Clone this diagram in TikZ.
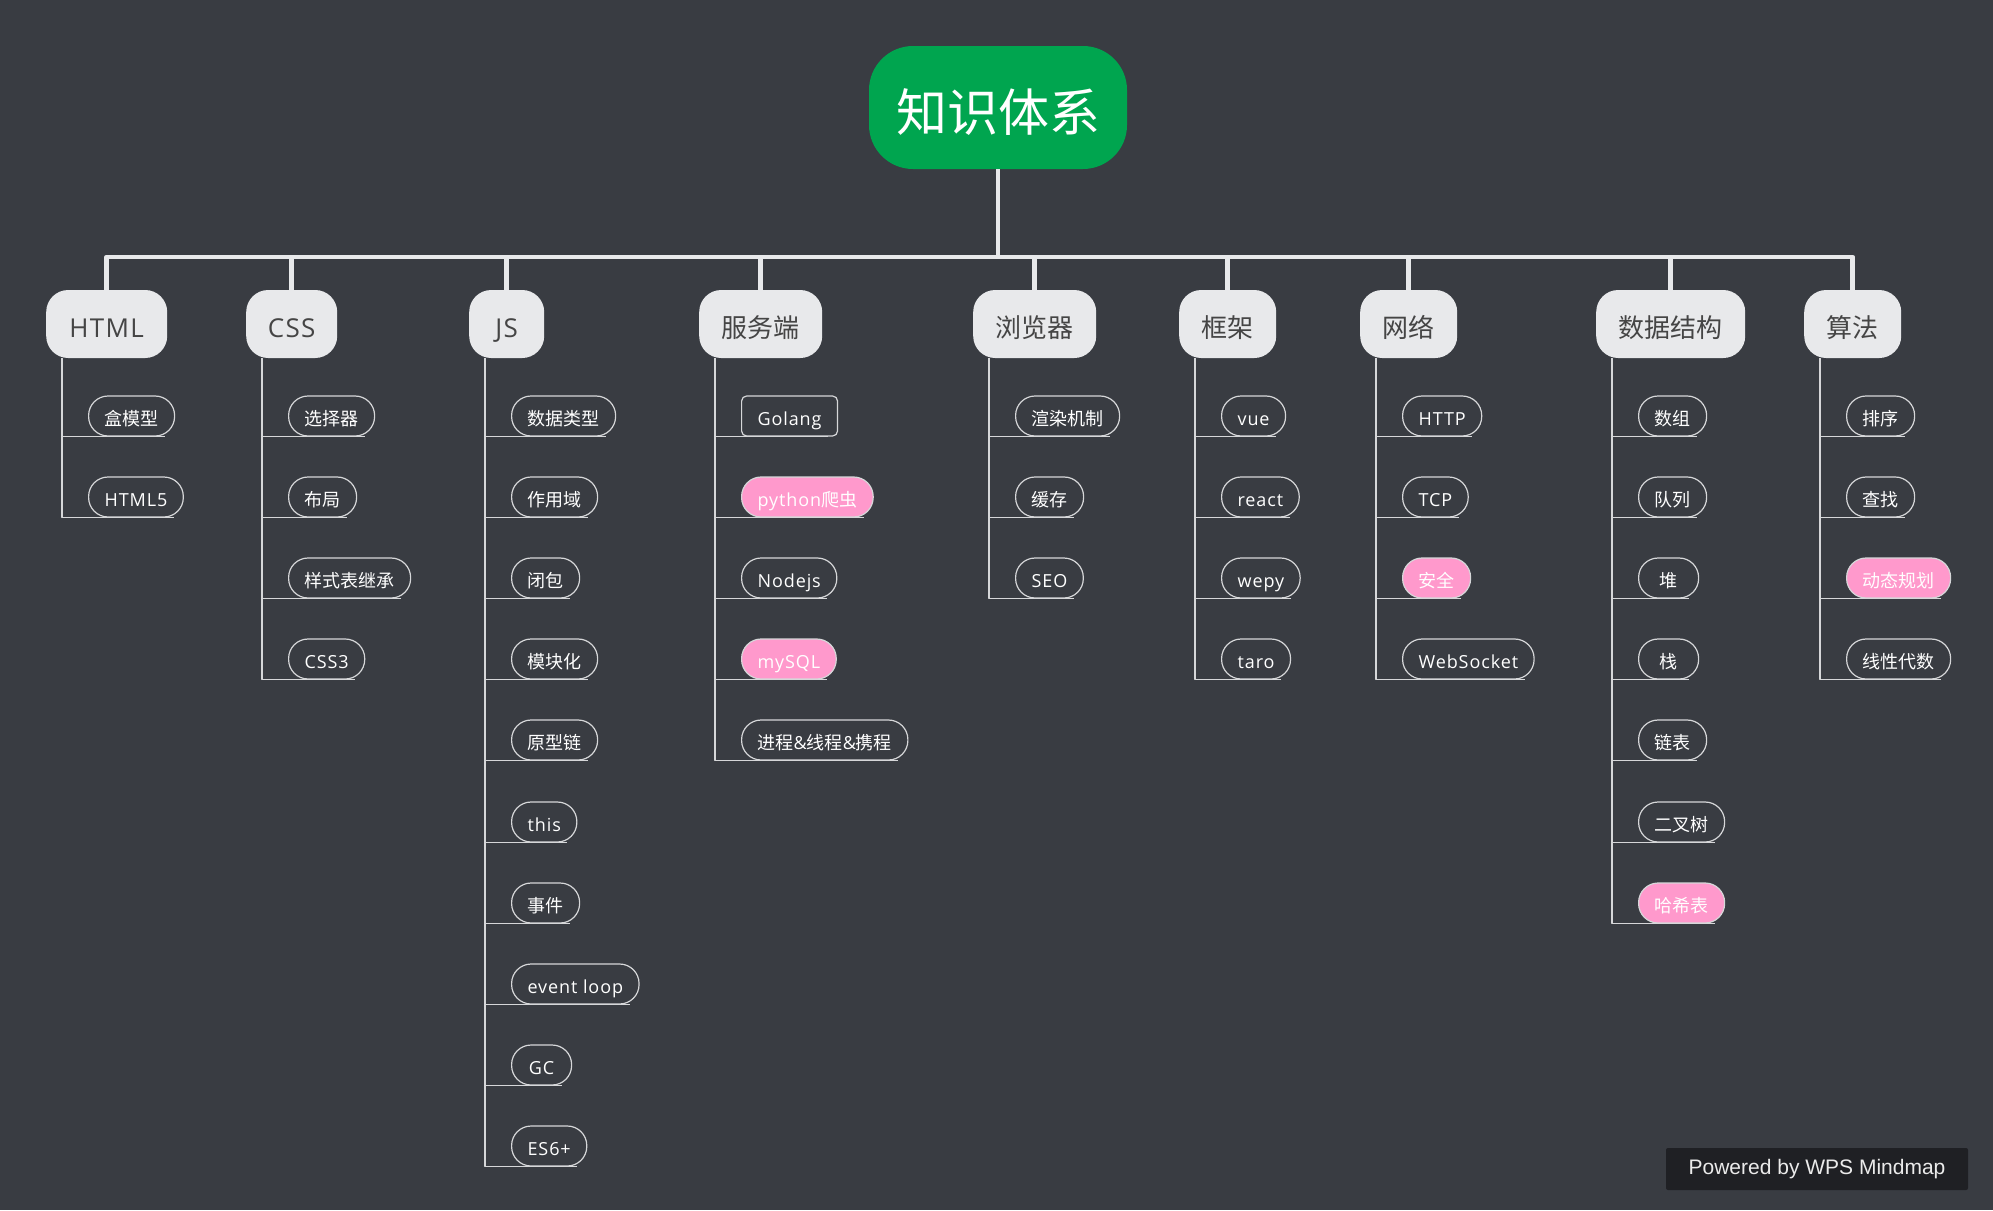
\documentclass[tikz,border=0pt]{standalone}
\usepackage{fontspec}
\newfontfamily\zhfont{Noto Sans CJK SC}
\newfontfamily\enfont[LetterSpace=5]{Open Sans}
\newfontfamily\wpsfont{Liberation Sans}
\definecolor{bgcol}{HTML}{393C42}
\definecolor{rootgreen}{HTML}{00A54F}
\definecolor{topicgray}{HTML}{E8E9EB}
\definecolor{topictext}{HTML}{454545}
\definecolor{linegray}{HTML}{D6D7D9}
\definecolor{markpink}{HTML}{FF99CC}
\definecolor{badgebg}{HTML}{1F2024}
\begin{document}
\begin{tikzpicture}[x=1pt,y=-1pt,font=\zhfont,line join=round,
	root/.style={fill=rootgreen,text=white,rounded corners=44pt,minimum width=258pt,minimum height=123pt,text height=50pt,text depth=2pt,font=\zhfont\fontsize{51}{51}\selectfont},
	topic/.style={fill=topicgray,text=topictext,rounded corners=22pt,minimum height=68pt,inner xsep=0pt,anchor=west,text height=28pt,text depth=1pt,font=\zhfont\fontsize{26}{26}\selectfont},
	entopic/.style={font=\enfont\fontsize{26}{26}\selectfont},
	leaf/.style={draw=linegray,line width=1.2pt,text=white,rounded corners=19.5pt,minimum height=40pt,minimum width=60pt,inner xsep=16pt,anchor=west,text height=20pt,text depth=1pt,font=\zhfont\fontsize{18}{18}\selectfont},
	en/.style={font=\enfont\fontsize{18}{18}\selectfont},
	hot/.style={leaf,fill=markpink},
	boxleaf/.style={leaf,rounded corners=5pt},
	trunk/.style={draw=topicgray,line width=4.5pt},
	twig/.style={draw=linegray,line width=1.5pt},
	badge/.style={fill=badgebg,text=white!92!black,rounded corners=2pt,minimum width=302pt,minimum height=42pt,font=\wpsfont\fontsize{21}{21}\selectfont}]
	
	\fill[bgcol] (0,0) rectangle (1993,1210);
	\node[root] (root) at (998,107.5) {知识体系};
	\coordinate (bar) at (998,257);
	
	% Nhánh cấp 1
	\node[topic,entopic,minimum width=121pt] (html) at (46,324) {HTML};
	\node[topic,entopic,minimum width=91pt] (css) at (246,324) {CSS};
	\node[topic,entopic,minimum width=75pt] (js) at (469,324) {JS};
	\node[topic,minimum width=123pt] (srv) at (699,324) {服务端};
	\node[topic,minimum width=123pt] (brw) at (973,324) {浏览器};
	\node[topic,minimum width=97pt] (frm) at (1179,324) {框架};
	\node[topic,minimum width=97pt] (net) at (1360,324) {网络};
	\node[topic,minimum width=149pt] (ds) at (1596,324) {数据结构};
	\node[topic,minimum width=97pt] (algo) at (1804,324) {算法};
	\foreach \t in {html,css,js,srv,brw,frm,net,ds,algo}
		\draw[trunk] (root.south) -- (root.south |- bar) -| (\t.north);
	
	% HTML
	\node[leaf] (html1) at (88,416) {盒模型};
	\node[leaf,en] (html2) at (88,497) {HTML5};
	% CSS
	\node[leaf] (css1) at (288,416) {选择器};
	\node[leaf] (css2) at (288,497) {布局};
	\node[leaf] (css3) at (288,578) {样式表继承};
	\node[leaf,en] (css4) at (288,659) {CSS3};
	% JS
	\node[leaf] (js1) at (511,416) {数据类型};
	\node[leaf] (js2) at (511,497) {作用域};
	\node[leaf] (js3) at (511,578) {闭包};
	\node[leaf] (js4) at (511,659) {模块化};
	\node[leaf] (js5) at (511,740) {原型链};
	\node[leaf,en] (js6) at (511,822) {this};
	\node[leaf] (js7) at (511,903) {事件};
	\node[leaf,en] (js8) at (511,984) {event loop};
	\node[leaf,en] (js9) at (511,1065) {GC};
	\node[leaf,en] (js10) at (511,1146) {ES6+};
	% Server
	\node[boxleaf,en] (srv1) at (741,416) {Golang};
	\node[hot] (srv2) at (741,497) {{\enfont python}爬虫};
	\node[leaf,en] (srv3) at (741,578) {Nodejs};
	\node[hot,en] (srv4) at (741,659) {mySQL};
	\node[leaf] (srv5) at (741,740) {进程{\enfont\&}线程{\enfont\&}携程};
	% Browser
	\node[leaf] (brw1) at (1015,416) {渲染机制};
	\node[leaf] (brw2) at (1015,497) {缓存};
	\node[leaf,en] (brw3) at (1015,578) {SEO};
	% Frameworks
	\node[leaf,en] (frm1) at (1221,416) {vue};
	\node[leaf,en] (frm2) at (1221,497) {react};
	\node[leaf,en] (frm3) at (1221,578) {wepy};
	\node[leaf,en] (frm4) at (1221,659) {taro};
	% Network
	\node[leaf,en] (net1) at (1402,416) {HTTP};
	\node[leaf,en] (net2) at (1402,497) {TCP};
	\node[hot] (net3) at (1402,578) {安全};
	\node[leaf,en] (net4) at (1402,659) {WebSocket};
	% Data structures
	\node[leaf] (ds1) at (1638,416) {数组};
	\node[leaf] (ds2) at (1638,497) {队列};
	\node[leaf] (ds3) at (1638,578) {堆};
	\node[leaf] (ds4) at (1638,659) {栈};
	\node[leaf] (ds5) at (1638,740) {链表};
	\node[leaf] (ds6) at (1638,822) {二叉树};
	\node[hot] (ds7) at (1638,903) {哈希表};
	% Algorithms
	\node[leaf] (algo1) at (1846,416) {排序};
	\node[leaf] (algo2) at (1846,497) {查找};
	\node[hot] (algo3) at (1846,578) {动态规划};
	\node[leaf] (algo4) at (1846,659) {线性代数};
	
	% Vẽ nhánh con
	\foreach \t/\n in {html/2,css/4,js/10,srv/5,brw/3,frm/4,net/4,ds/7,algo/4}
		\foreach \k in {1,...,\n}
			\draw[twig] ([xshift=16pt]\t.south west) |- ([xshift=-10pt]\t\k.south east);
	
	\node[badge] (wps) at (1817,1169) {Powered by WPS Mindmap};
\end{tikzpicture}
\end{document}
